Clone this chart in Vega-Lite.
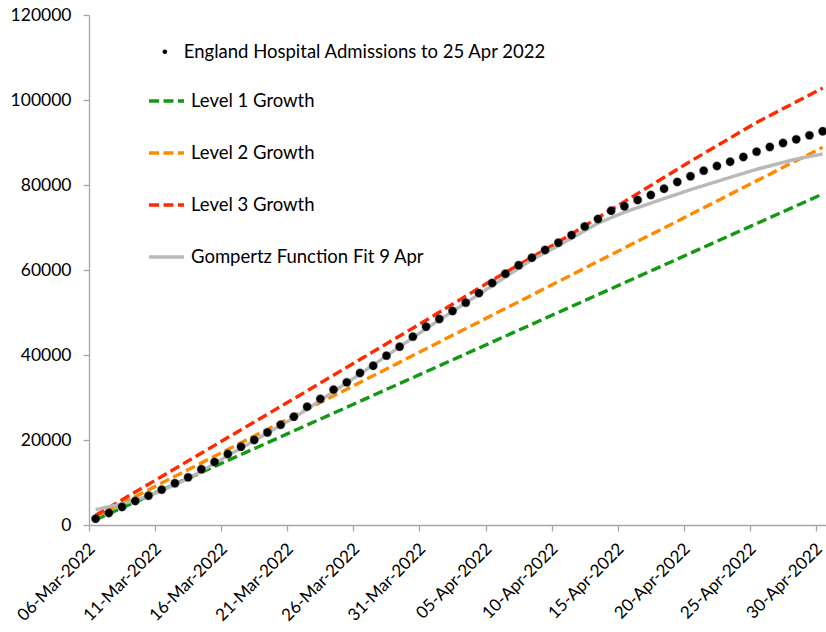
{
  "$schema": "https://vega.github.io/schema/vega-lite/v6.json",
  "width": 737,
  "height": 510,
  "autosize": {"type": "none"},
  "padding": {"left": 89, "top": 15, "right": 0, "bottom": 107},
  "config": {
    "view": {"stroke": null},
    "font": "Lato",
    "axis": {
      "domainColor": "#a6a6a6",
      "domainWidth": 1.3,
      "tickColor": "#a6a6a6",
      "tickWidth": 1.3,
      "tickSize": 6,
      "grid": false,
      "labelFont": "Lato",
      "labelFontSize": 17.5,
      "labelColor": "#000000",
      "title": null
    },
    "legend": {
      "labelFont": "Lato",
      "labelFontSize": 18.5,
      "labelColor": "#000000",
      "labelLimit": 600,
      "padding": 0,
      "title": null
    }
  },
  "datasets": {
    "admissions": [
      {"date": "2022-03-06", "series": "England Hospital Admissions to 25 Apr 2022", "value": 1480},
      {"date": "2022-03-07", "series": "England Hospital Admissions to 25 Apr 2022", "value": 2820},
      {"date": "2022-03-08", "series": "England Hospital Admissions to 25 Apr 2022", "value": 4240},
      {"date": "2022-03-09", "series": "England Hospital Admissions to 25 Apr 2022", "value": 5650},
      {"date": "2022-03-10", "series": "England Hospital Admissions to 25 Apr 2022", "value": 6890},
      {"date": "2022-03-11", "series": "England Hospital Admissions to 25 Apr 2022", "value": 8310},
      {"date": "2022-03-12", "series": "England Hospital Admissions to 25 Apr 2022", "value": 9810},
      {"date": "2022-03-13", "series": "England Hospital Admissions to 25 Apr 2022", "value": 11220},
      {"date": "2022-03-14", "series": "England Hospital Admissions to 25 Apr 2022", "value": 13110},
      {"date": "2022-03-15", "series": "England Hospital Admissions to 25 Apr 2022", "value": 14820},
      {"date": "2022-03-16", "series": "England Hospital Admissions to 25 Apr 2022", "value": 16710},
      {"date": "2022-03-17", "series": "England Hospital Admissions to 25 Apr 2022", "value": 18420},
      {"date": "2022-03-18", "series": "England Hospital Admissions to 25 Apr 2022", "value": 20000},
      {"date": "2022-03-19", "series": "England Hospital Admissions to 25 Apr 2022", "value": 21770},
      {"date": "2022-03-20", "series": "England Hospital Admissions to 25 Apr 2022", "value": 23580},
      {"date": "2022-03-21", "series": "England Hospital Admissions to 25 Apr 2022", "value": 25480},
      {"date": "2022-03-22", "series": "England Hospital Admissions to 25 Apr 2022", "value": 27830},
      {"date": "2022-03-23", "series": "England Hospital Admissions to 25 Apr 2022", "value": 29680},
      {"date": "2022-03-24", "series": "England Hospital Admissions to 25 Apr 2022", "value": 31850},
      {"date": "2022-03-25", "series": "England Hospital Admissions to 25 Apr 2022", "value": 33560},
      {"date": "2022-03-26", "series": "England Hospital Admissions to 25 Apr 2022", "value": 35770},
      {"date": "2022-03-27", "series": "England Hospital Admissions to 25 Apr 2022", "value": 37480},
      {"date": "2022-03-28", "series": "England Hospital Admissions to 25 Apr 2022", "value": 39840},
      {"date": "2022-03-29", "series": "England Hospital Admissions to 25 Apr 2022", "value": 41950},
      {"date": "2022-03-30", "series": "England Hospital Admissions to 25 Apr 2022", "value": 44310},
      {"date": "2022-03-31", "series": "England Hospital Admissions to 25 Apr 2022", "value": 46660},
      {"date": "2022-04-01", "series": "England Hospital Admissions to 25 Apr 2022", "value": 48470},
      {"date": "2022-04-02", "series": "England Hospital Admissions to 25 Apr 2022", "value": 50350},
      {"date": "2022-04-03", "series": "England Hospital Admissions to 25 Apr 2022", "value": 52310},
      {"date": "2022-04-04", "series": "England Hospital Admissions to 25 Apr 2022", "value": 54550},
      {"date": "2022-04-05", "series": "England Hospital Admissions to 25 Apr 2022", "value": 56940},
      {"date": "2022-04-06", "series": "England Hospital Admissions to 25 Apr 2022", "value": 59130},
      {"date": "2022-04-07", "series": "England Hospital Admissions to 25 Apr 2022", "value": 61110},
      {"date": "2022-04-08", "series": "England Hospital Admissions to 25 Apr 2022", "value": 62890},
      {"date": "2022-04-09", "series": "England Hospital Admissions to 25 Apr 2022", "value": 64710},
      {"date": "2022-04-10", "series": "England Hospital Admissions to 25 Apr 2022", "value": 66420},
      {"date": "2022-04-11", "series": "England Hospital Admissions to 25 Apr 2022", "value": 68200},
      {"date": "2022-04-12", "series": "England Hospital Admissions to 25 Apr 2022", "value": 70250},
      {"date": "2022-04-13", "series": "England Hospital Admissions to 25 Apr 2022", "value": 72000},
      {"date": "2022-04-14", "series": "England Hospital Admissions to 25 Apr 2022", "value": 73950},
      {"date": "2022-04-15", "series": "England Hospital Admissions to 25 Apr 2022", "value": 75000},
      {"date": "2022-04-16", "series": "England Hospital Admissions to 25 Apr 2022", "value": 76470},
      {"date": "2022-04-17", "series": "England Hospital Admissions to 25 Apr 2022", "value": 77650},
      {"date": "2022-04-18", "series": "England Hospital Admissions to 25 Apr 2022", "value": 79130},
      {"date": "2022-04-19", "series": "England Hospital Admissions to 25 Apr 2022", "value": 80710},
      {"date": "2022-04-20", "series": "England Hospital Admissions to 25 Apr 2022", "value": 82050},
      {"date": "2022-04-21", "series": "England Hospital Admissions to 25 Apr 2022", "value": 83370},
      {"date": "2022-04-22", "series": "England Hospital Admissions to 25 Apr 2022", "value": 84470},
      {"date": "2022-04-23", "series": "England Hospital Admissions to 25 Apr 2022", "value": 85480},
      {"date": "2022-04-24", "series": "England Hospital Admissions to 25 Apr 2022", "value": 86590},
      {"date": "2022-04-25", "series": "England Hospital Admissions to 25 Apr 2022", "value": 87840},
      {"date": "2022-04-26", "series": "England Hospital Admissions to 25 Apr 2022", "value": 88940},
      {"date": "2022-04-27", "series": "England Hospital Admissions to 25 Apr 2022", "value": 89880},
      {"date": "2022-04-28", "series": "England Hospital Admissions to 25 Apr 2022", "value": 90750},
      {"date": "2022-04-29", "series": "England Hospital Admissions to 25 Apr 2022", "value": 91690},
      {"date": "2022-04-30", "series": "England Hospital Admissions to 25 Apr 2022", "value": 92640}
    ],
    "curves": [
      {"date": "2022-03-06", "series": "Level 1 Growth", "value": 1240},
      {"date": "2022-03-11", "series": "Level 1 Growth", "value": 8210},
      {"date": "2022-03-16", "series": "Level 1 Growth", "value": 15180},
      {"date": "2022-03-21", "series": "Level 1 Growth", "value": 22140},
      {"date": "2022-03-26", "series": "Level 1 Growth", "value": 29110},
      {"date": "2022-03-31", "series": "Level 1 Growth", "value": 36070},
      {"date": "2022-04-05", "series": "Level 1 Growth", "value": 43040},
      {"date": "2022-04-10", "series": "Level 1 Growth", "value": 50020},
      {"date": "2022-04-15", "series": "Level 1 Growth", "value": 56990},
      {"date": "2022-04-20", "series": "Level 1 Growth", "value": 63960},
      {"date": "2022-04-25", "series": "Level 1 Growth", "value": 70920},
      {"date": "2022-04-30", "series": "Level 1 Growth", "value": 77880},
      {"date": "2022-03-06", "series": "Level 2 Growth", "value": 1960},
      {"date": "2022-03-11", "series": "Level 2 Growth", "value": 9860},
      {"date": "2022-03-16", "series": "Level 2 Growth", "value": 17770},
      {"date": "2022-03-21", "series": "Level 2 Growth", "value": 25670},
      {"date": "2022-03-26", "series": "Level 2 Growth", "value": 33550},
      {"date": "2022-03-31", "series": "Level 2 Growth", "value": 41460},
      {"date": "2022-04-05", "series": "Level 2 Growth", "value": 49370},
      {"date": "2022-04-10", "series": "Level 2 Growth", "value": 57270},
      {"date": "2022-04-15", "series": "Level 2 Growth", "value": 65180},
      {"date": "2022-04-20", "series": "Level 2 Growth", "value": 73060},
      {"date": "2022-04-25", "series": "Level 2 Growth", "value": 80970},
      {"date": "2022-04-30", "series": "Level 2 Growth", "value": 88870},
      {"date": "2022-03-06", "series": "Level 3 Growth", "value": 2280},
      {"date": "2022-03-11", "series": "Level 3 Growth", "value": 11410},
      {"date": "2022-03-16", "series": "Level 3 Growth", "value": 20570},
      {"date": "2022-03-21", "series": "Level 3 Growth", "value": 29720},
      {"date": "2022-03-26", "series": "Level 3 Growth", "value": 38940},
      {"date": "2022-03-31", "series": "Level 3 Growth", "value": 48170},
      {"date": "2022-04-05", "series": "Level 3 Growth", "value": 57620},
      {"date": "2022-04-10", "series": "Level 3 Growth", "value": 66590},
      {"date": "2022-04-15", "series": "Level 3 Growth", "value": 76090},
      {"date": "2022-04-20", "series": "Level 3 Growth", "value": 85580},
      {"date": "2022-04-25", "series": "Level 3 Growth", "value": 94710},
      {"date": "2022-04-30", "series": "Level 3 Growth", "value": 102800},
      {"date": "2022-03-06", "series": "Gompertz Function Fit 9 Apr", "value": 3600},
      {"date": "2022-03-07", "series": "Gompertz Function Fit 9 Apr", "value": 4300},
      {"date": "2022-03-08", "series": "Gompertz Function Fit 9 Apr", "value": 5000},
      {"date": "2022-03-09", "series": "Gompertz Function Fit 9 Apr", "value": 5800},
      {"date": "2022-03-10", "series": "Gompertz Function Fit 9 Apr", "value": 6800},
      {"date": "2022-03-11", "series": "Gompertz Function Fit 9 Apr", "value": 8100},
      {"date": "2022-03-13", "series": "Gompertz Function Fit 9 Apr", "value": 10900},
      {"date": "2022-03-16", "series": "Gompertz Function Fit 9 Apr", "value": 16300},
      {"date": "2022-03-21", "series": "Gompertz Function Fit 9 Apr", "value": 25200},
      {"date": "2022-03-26", "series": "Gompertz Function Fit 9 Apr", "value": 35500},
      {"date": "2022-03-31", "series": "Gompertz Function Fit 9 Apr", "value": 46200},
      {"date": "2022-04-05", "series": "Gompertz Function Fit 9 Apr", "value": 56300},
      {"date": "2022-04-08", "series": "Gompertz Function Fit 9 Apr", "value": 62400},
      {"date": "2022-04-10", "series": "Gompertz Function Fit 9 Apr", "value": 65700},
      {"date": "2022-04-13", "series": "Gompertz Function Fit 9 Apr", "value": 71000},
      {"date": "2022-04-15", "series": "Gompertz Function Fit 9 Apr", "value": 73600},
      {"date": "2022-04-18", "series": "Gompertz Function Fit 9 Apr", "value": 76800},
      {"date": "2022-04-20", "series": "Gompertz Function Fit 9 Apr", "value": 78900},
      {"date": "2022-04-23", "series": "Gompertz Function Fit 9 Apr", "value": 81800},
      {"date": "2022-04-25", "series": "Gompertz Function Fit 9 Apr", "value": 83700},
      {"date": "2022-04-28", "series": "Gompertz Function Fit 9 Apr", "value": 86100},
      {"date": "2022-04-30", "series": "Gompertz Function Fit 9 Apr", "value": 87300}
    ]
  },
  "encoding": {
    "x": {
      "field": "date",
      "type": "temporal",
      "scale": {
        "type": "utc",
        "domain": [
          {"year": 2022, "month": 3, "date": 6, "utc": true},
          {"year": 2022, "month": 4, "date": 30, "hours": 18, "utc": true}
        ]
      },
      "axis": {
        "values": [
          {"year": 2022, "month": 3, "date": 6, "utc": true},
          {"year": 2022, "month": 3, "date": 11, "utc": true},
          {"year": 2022, "month": 3, "date": 16, "utc": true},
          {"year": 2022, "month": 3, "date": 21, "utc": true},
          {"year": 2022, "month": 3, "date": 26, "utc": true},
          {"year": 2022, "month": 3, "date": 31, "utc": true},
          {"year": 2022, "month": 4, "date": 5, "utc": true},
          {"year": 2022, "month": 4, "date": 10, "utc": true},
          {"year": 2022, "month": 4, "date": 15, "utc": true},
          {"year": 2022, "month": 4, "date": 20, "utc": true},
          {"year": 2022, "month": 4, "date": 25, "utc": true},
          {"year": 2022, "month": 4, "date": 30, "utc": true}
        ],
        "format": "%d-%b-%Y",
        "labelAngle": -45,
        "labelAlign": "right",
        "labelBaseline": "middle",
        "labelFontSize": 17,
        "labelOffset": 3,
        "labelPadding": 15,
        "labelOverlap": false,
        "labelBound": false,
        "labelFlush": false
      }
    },
    "y": {
      "field": "value",
      "type": "quantitative",
      "scale": {"domain": [0, 120000], "nice": false},
      "axis": {
        "values": [0, 20000, 40000, 60000, 80000, 100000, 120000],
        "format": "d",
        "labelPadding": 12
      }
    }
  },
  "layer": [
    {
      "data": {"name": "curves"},
      "mark": {"type": "line", "xOffset": 6.6, "strokeCap": "butt"},
      "encoding": {
        "color": {
          "field": "series",
          "type": "nominal",
          "scale": {
            "domain": ["Level 1 Growth", "Level 2 Growth", "Level 3 Growth", "Gompertz Function Fit 9 Apr"],
            "range": ["#139a13", "#ff8a00", "#ff2a00", "#b9b9b9"]
          },
          "legend": {
            "orient": "none",
            "legendX": 58,
            "legendY": 66.5,
            "symbolType": "stroke",
            "symbolSize": 1225,
            "symbolStrokeWidth": 2.4,
            "rowPadding": 23,
            "labelOffset": 5
          }
        },
        "strokeDash": {
          "field": "series",
          "type": "nominal",
          "scale": {
            "domain": ["Level 1 Growth", "Level 2 Growth", "Level 3 Growth", "Gompertz Function Fit 9 Apr"],
            "range": [[10, 4.5], [10, 4.5], [10, 4.5], [1, 0]]
          }
        },
        "strokeWidth": {
          "field": "series",
          "type": "nominal",
          "scale": {
            "domain": ["Level 1 Growth", "Level 2 Growth", "Level 3 Growth", "Gompertz Function Fit 9 Apr"],
            "range": [3.4, 3.4, 3.4, 3.6]
          },
          "legend": null
        }
      }
    },
    {
      "data": {"name": "admissions"},
      "mark": {
        "type": "point",
        "filled": true,
        "size": 70,
        "xOffset": 6.6,
        "color": "#000000",
        "opacity": 1,
        "stroke": "#444444",
        "strokeWidth": 1.2,
        "strokeOpacity": 0.35
      },
      "encoding": {
        "shape": {
          "field": "series",
          "type": "nominal",
          "scale": {"range": ["circle"]},
          "legend": {
            "orient": "none",
            "legendX": 66.6,
            "legendY": 27.5,
            "symbolSize": 22,
            "symbolFillColor": "#000000",
            "symbolStrokeColor": "#000000",
            "symbolStrokeWidth": 0,
            "labelOffset": 9.7
          }
        }
      }
    }
  ]
}
